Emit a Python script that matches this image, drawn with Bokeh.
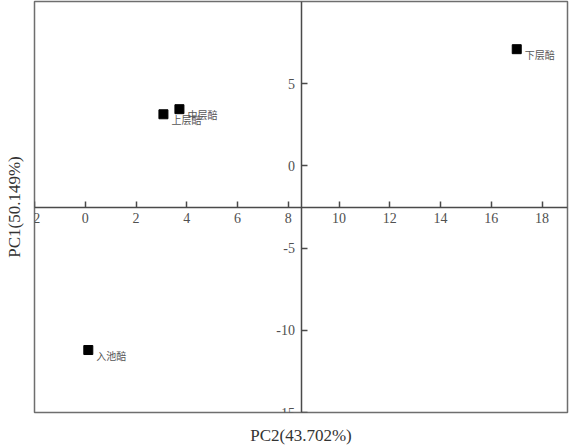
from bokeh.plotting import figure
from bokeh.models import LinearAxis, FixedTicker, ColumnDataSource, Range1d
from bokeh.core.properties import value
from bokeh.embed import file_html
from bokeh.resources import INLINE

samples = ["上层醅", "中层醅", "下层醅", "入池醅"]
pc2 = [3.08, 3.71, 17.0, 0.12]
pc1 = [3.14, 3.45, 7.1, -11.2]
x_ticks = [-2, 0, 2, 4, 6, 8, 10, 12, 14, 16, 18]
y_ticks = [-15, -10, -5, 0, 5]

SERIF = "Liberation Serif"
CJK = "Noto Sans CJK SC"

p = figure(width=569, height=447, output_backend="svg", toolbar_location=None,
           x_range=Range1d(-2, 19), y_range=Range1d(-15, 10),
           x_axis_location=None, y_axis_location=None,
           min_border_left=34, min_border_right=2, min_border_top=1, min_border_bottom=35)
p.grid.visible = False
p.outline_line_color = "#6e6e6e"
p.outline_line_width = 1.5
p.background_fill_color = "white"
p.border_fill_color = "white"

# crossing axes at the centre of the frame
xa = LinearAxis(ticker=FixedTicker(ticks=x_ticks), fixed_location=-2.5)
ya = LinearAxis(ticker=FixedTicker(ticks=y_ticks), fixed_location=8.5)
xa.major_label_overrides = {t: str(t) for t in x_ticks}
ya.major_label_overrides = {t: str(t) for t in y_ticks}
for ax in (xa, ya):
    ax.axis_line_color = "#4a4a4a"
    ax.axis_line_width = 1.5
    ax.major_tick_line_color = "#4a4a4a"
    ax.major_tick_line_width = 1.5
    ax.major_tick_in = 6
    ax.major_tick_out = 0
    ax.minor_tick_line_color = None
    ax.major_label_text_font = SERIF
    ax.major_label_text_font_size = "14px"
    ax.major_label_text_color = "#505050"
    ax.major_label_standoff = 6
p.add_layout(xa, "below")
p.add_layout(ya, "left")

# outer axis titles
xt = LinearAxis(ticker=FixedTicker(ticks=[]), axis_label="PC2(43.702%)")
yt = LinearAxis(ticker=FixedTicker(ticks=[]), axis_label="PC1(50.149%)")
for ax in (xt, yt):
    ax.axis_line_color = None
    ax.major_tick_line_color = None
    ax.minor_tick_line_color = None
    ax.major_label_text_font_size = "0px"
    ax.axis_label_text_font = SERIF
    ax.axis_label_text_font_size = "17px"
    ax.axis_label_text_font_style = "normal"
    ax.axis_label_text_color = "#333333"
xt.axis_label_standoff = 13
yt.axis_label_standoff = 11
p.add_layout(xt, "below")
p.add_layout(yt, "left")

src = ColumnDataSource(dict(x=pc2, y=pc1, name=samples))
p.scatter("x", "y", source=src, marker="square", size=9, fill_color="black", line_color="black")
p.text("x", "y", text="name", source=src, x_offset=8, y_offset=5,
       text_font=value(CJK), text_font_size="10px", text_color="#555555",
       text_baseline="middle", text_align="left")

open("out.html", "w").write(file_html(p, INLINE))
